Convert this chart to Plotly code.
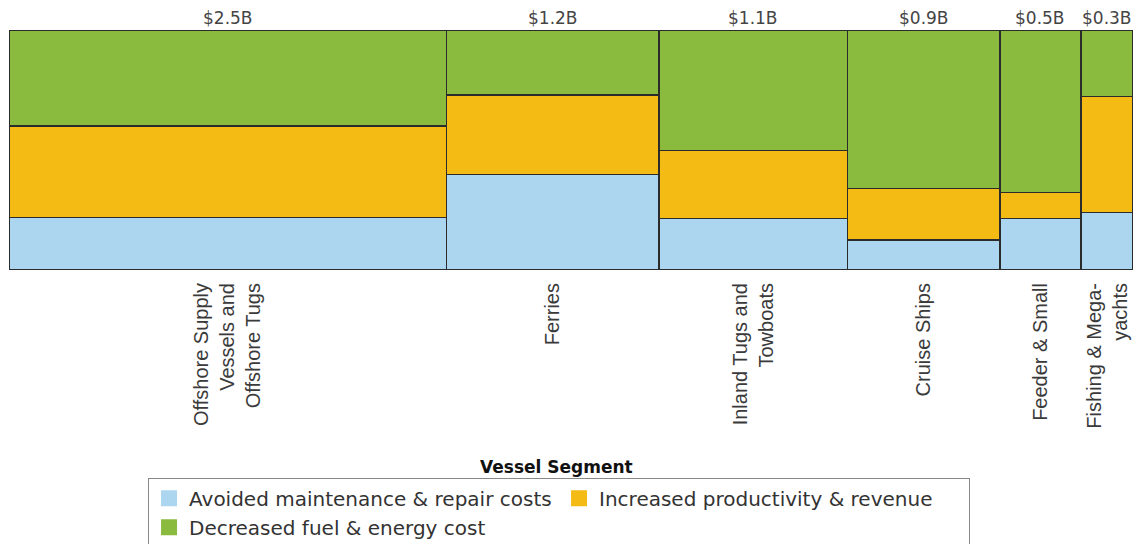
import plotly.graph_objects as go

# ---- data ----
segments = [
    "Offshore Supply<br>Vessels and<br>Offshore Tugs",
    "Ferries",
    "Inland Tugs and<br>Towboats",
    "Cruise Ships",
    "Feeder & Small",
    "Fishing & Mega-<br>yachts",
]
segment_totals = [2.53, 1.23, 1.09, 0.88, 0.47, 0.30]   # $B (column widths)
total_labels = ["$2.5B", "$1.2B", "$1.1B", "$0.9B", "$0.5B", "$0.3B"]

series_names = [
    "Avoided maintenance & repair costs",
    "Increased productivity & revenue",
    "Decreased fuel & energy cost",
]
avoided_maint = [21.9, 39.7, 21.4, 12.6, 21.4, 23.9]      # % of segment
increased_prod = [38.2, 33.3, 28.3, 21.3, 10.8, 48.3]
decreased_fuel = [39.9, 27.0, 50.3, 66.1, 67.8, 27.8]

colors = ["#acd6f0", "#f5bb15", "#8aba3e"]

# ---- derived column geometry ----
starts = []
acc = 0.0
for w in segment_totals:
    starts.append(acc)
    acc += w
total = acc
centers = [s + w / 2 for s, w in zip(starts, segment_totals)]

fig = go.Figure()
for name, vals, col in zip(series_names, [avoided_maint, increased_prod, decreased_fuel], colors):
    fig.add_trace(go.Bar(
        x=centers, y=vals, width=segment_totals, name=name,
        marker=dict(color=col, line=dict(color="#2b2b2b", width=1.5)),
        showlegend=False, hoverinfo="skip",
    ))
    # legend proxy with a larger square swatch
    fig.add_trace(go.Scatter(
        x=[None], y=[None], mode="markers", name=name,
        marker=dict(symbol="square", size=16, color=col, line=dict(width=0)),
    ))

for c, lab in zip(centers, total_labels):
    fig.add_annotation(
        x=c, y=1, xref="x", yref="paper", yanchor="bottom", showarrow=False,
        text=lab, font=dict(family="DejaVu Sans", size=17, color="#444444"),
    )

fig.add_annotation(
    x=0.4875, y=-0.82, xref="paper", yref="paper", yanchor="middle", showarrow=False,
    text="<b>Vessel Segment</b>",
    font=dict(family="DejaVu Sans", size=17, color="#111111"),
)

fig.update_layout(
    width=1140, height=544,
    margin=dict(l=9, r=7, t=30, b=274, autoexpand=False),
    barmode="stack",
    plot_bgcolor="white", paper_bgcolor="white",
    xaxis=dict(
        range=[0, total], tickvals=centers, ticktext=segments, tickangle=-90,
        showgrid=False, zeroline=False, showline=False, ticks="",
        ticklabelstandoff=8, automargin=False,
        tickfont=dict(family="Liberation Sans", size=20, color="#3a3a3a"),
    ),
    yaxis=dict(range=[0, 100], showgrid=False, zeroline=False, showticklabels=False,
               ticks="", automargin=False),
    legend=dict(
        orientation="h", x=0.1237, xanchor="left", y=-0.866, yanchor="top",
        entrywidth=365, entrywidthmode="pixels", traceorder="normal",
        bordercolor="#888888", borderwidth=1, bgcolor="white",
        font=dict(family="DejaVu Sans", size=20, color="#333333"),
        tracegroupgap=0,
    ),
)

fig.write_html("out.html")
